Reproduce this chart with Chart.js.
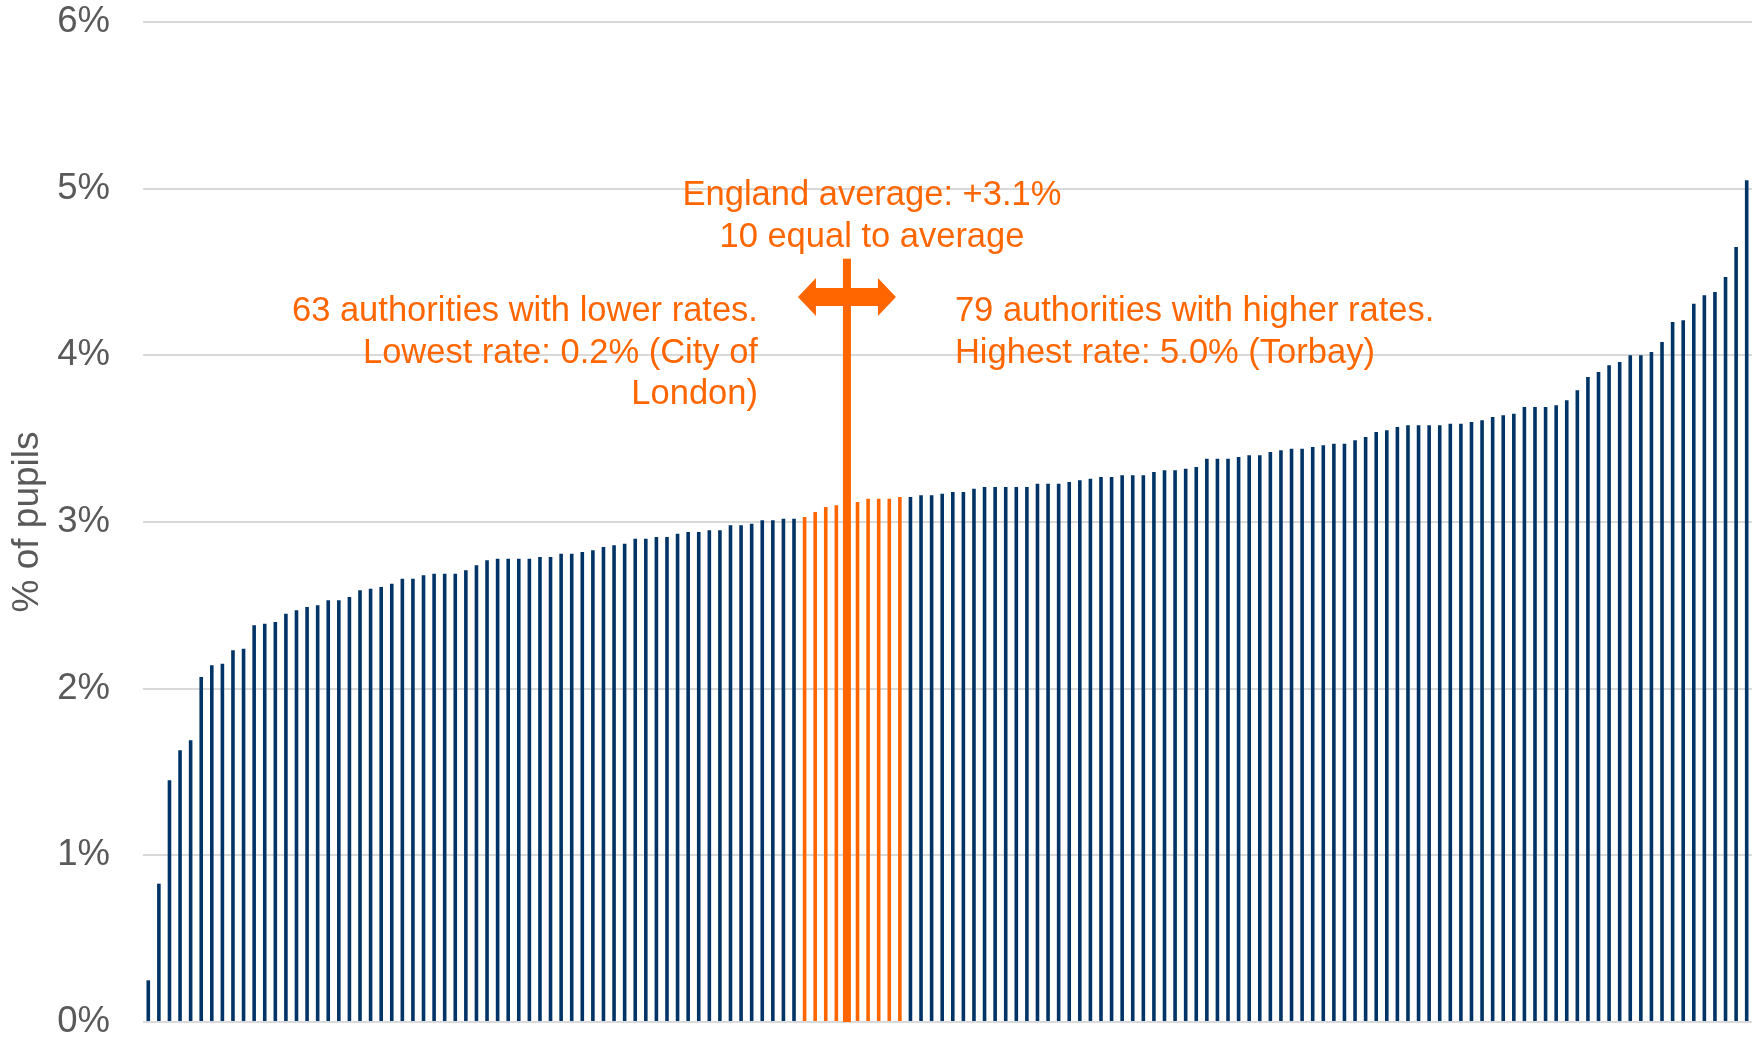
<!DOCTYPE html>
<html>
<head>
<meta charset="utf-8">
<script src="https://cdn.jsdelivr.net/npm/chart.js@4.4.1/dist/chart.umd.min.js"></script>
<style>
  html, body { margin: 0; padding: 0; background: #ffffff; }
  #wrap { width: 1754px; height: 1038px; position: relative; }
</style>
</head>
<body>
<div id="wrap"><canvas id="chart"></canvas></div>
<script>
// % of pupils per local authority, sorted low to high
const rates = [
  0.25, 0.83, 1.45, 1.63, 1.69, 2.07, 2.14, 2.15, 2.23, 2.24,
  2.38, 2.39, 2.40, 2.45, 2.47, 2.49, 2.50, 2.53, 2.53, 2.55,
  2.59, 2.60, 2.61, 2.63, 2.66, 2.66, 2.68, 2.69, 2.69, 2.69,
  2.71, 2.74, 2.77, 2.78, 2.78, 2.78, 2.78, 2.79, 2.79, 2.81,
  2.81, 2.82, 2.83, 2.85, 2.86, 2.87, 2.90, 2.90, 2.91, 2.91,
  2.93, 2.94, 2.94, 2.95, 2.95, 2.98, 2.98, 2.99, 3.01, 3.01,
  3.02, 3.02, 3.03, 3.06, 3.09, 3.10, 3.11, 3.12, 3.14, 3.14,
  3.14, 3.15, 3.15, 3.16, 3.16, 3.17, 3.18, 3.18, 3.20, 3.21,
  3.21, 3.21, 3.21, 3.21, 3.23, 3.23, 3.23, 3.24, 3.25, 3.26,
  3.27, 3.27, 3.28, 3.28, 3.28, 3.30, 3.31, 3.31, 3.32, 3.33,
  3.38, 3.38, 3.38, 3.39, 3.40, 3.40, 3.42, 3.43, 3.44, 3.44,
  3.45, 3.46, 3.47, 3.47, 3.49, 3.51, 3.54, 3.55, 3.57, 3.58,
  3.58, 3.58, 3.58, 3.59, 3.59, 3.60, 3.61, 3.63, 3.64, 3.65,
  3.69, 3.69, 3.69, 3.70, 3.73, 3.79, 3.87, 3.90, 3.94, 3.96,
  4.00, 4.00, 4.02, 4.08, 4.20, 4.21, 4.31, 4.36, 4.38, 4.47,
  4.65, 5.05
];
const authorities = rates.map((_, i) => 'LA ' + (i + 1));

// the group drawn in orange (equal to the England average)
const equalStart = 62;
const equalCount = 10;

const tickLabels = ['0%', '1%', '2%', '3%', '4%', '5%', '6%'];
const axisTitle = '% of pupils';

const avgLines = ['England average: +3.1%', '10 equal to average'];
const lowerLines = ['63 authorities with lower rates.', 'Lowest rate: 0.2% (City of', 'London)'];
const higherLines = ['79 authorities with higher rates.', 'Highest rate: 5.0% (Torbay)'];

const NAVY = '#003366';
const ORANGE = '#FF6600';
const FONT = '"Liberation Sans", Arial, sans-serif';

const barColors = rates.map((v, i) =>
  (i >= equalStart && i < equalStart + equalCount) ? ORANGE : NAVY);

const annotations = {
  id: 'annotations',
  afterDatasetsDraw(chart) {
    const ctx = chart.ctx;
    const x = chart.scales.x;
    const y = chart.scales.y;
    const midX = x.getPixelForValue(equalStart + 4);
    ctx.save();
    ctx.fillStyle = ORANGE;

    // vertical marker line
    const top = y.getPixelForValue(4.58);
    ctx.fillRect(midX - 4, top, 8, y.bottom - top);

    // double headed horizontal arrow
    const ay = y.getPixelForValue(4.35);
    const half = 49, head = 18, shaft = 9, hh = 19;
    ctx.beginPath();
    ctx.moveTo(midX - half, ay);
    ctx.lineTo(midX - half + head, ay - hh);
    ctx.lineTo(midX - half + head, ay - shaft);
    ctx.lineTo(midX + half - head, ay - shaft);
    ctx.lineTo(midX + half - head, ay - hh);
    ctx.lineTo(midX + half, ay);
    ctx.lineTo(midX + half - head, ay + hh);
    ctx.lineTo(midX + half - head, ay + shaft);
    ctx.lineTo(midX - half + head, ay + shaft);
    ctx.lineTo(midX - half + head, ay + hh);
    ctx.closePath();
    ctx.fill();

    ctx.font = '34.5px ' + FONT;
    ctx.textBaseline = 'alphabetic';
    const lineH = 41.5;

    ctx.textAlign = 'center';
    let by = y.getPixelForValue(4.90);
    avgLines.forEach((t, i) => ctx.fillText(t, midX + 25, by + i * lineH));

    by = y.getPixelForValue(4.205);
    ctx.textAlign = 'right';
    lowerLines.forEach((t, i) => ctx.fillText(t, midX - 89, by + i * lineH));

    ctx.textAlign = 'left';
    higherLines.forEach((t, i) => ctx.fillText(t, midX + 108, by + i * lineH));

    ctx.restore();
  }
};

new Chart(document.getElementById('chart'), {
  type: 'bar',
  data: {
    labels: authorities,
    datasets: [{
      label: axisTitle,
      data: rates,
      backgroundColor: barColors,
      borderWidth: 0,
      barPercentage: 0.34,
      categoryPercentage: 1.0,
    }]
  },
  options: {
    responsive: true,
    maintainAspectRatio: false,
    animation: false,
    layout: {
      padding: { top: 22, right: 2, bottom: 16, left: 0 }
    },
    scales: {
      x: {
        display: false,
      },
      y: {
        min: 0,
        max: 6,
        afterFit(scale) {
          scale.width = 143;
          scale.paddingTop = 0;
          scale.paddingBottom = 0;
        },
        border: { display: false },
        grid: {
          color: '#D9D9D9',
          lineWidth: 2,
          drawTicks: false,
        },
        ticks: {
          stepSize: 1,
          padding: 33,
          color: '#595959',
          font: { family: FONT, size: 36.5, lineHeight: 0.9 },
          callback: (v) => tickLabels[v],
        },
        title: {
          display: true,
          text: axisTitle,
          color: '#595959',
          font: { family: FONT, size: 37 },
          padding: { top: 6, bottom: 0 },
        }
      }
    },
    plugins: {
      legend: { display: false },
      tooltip: { enabled: false },
    },
  },
  plugins: [annotations],
});
</script>
</body>
</html>
